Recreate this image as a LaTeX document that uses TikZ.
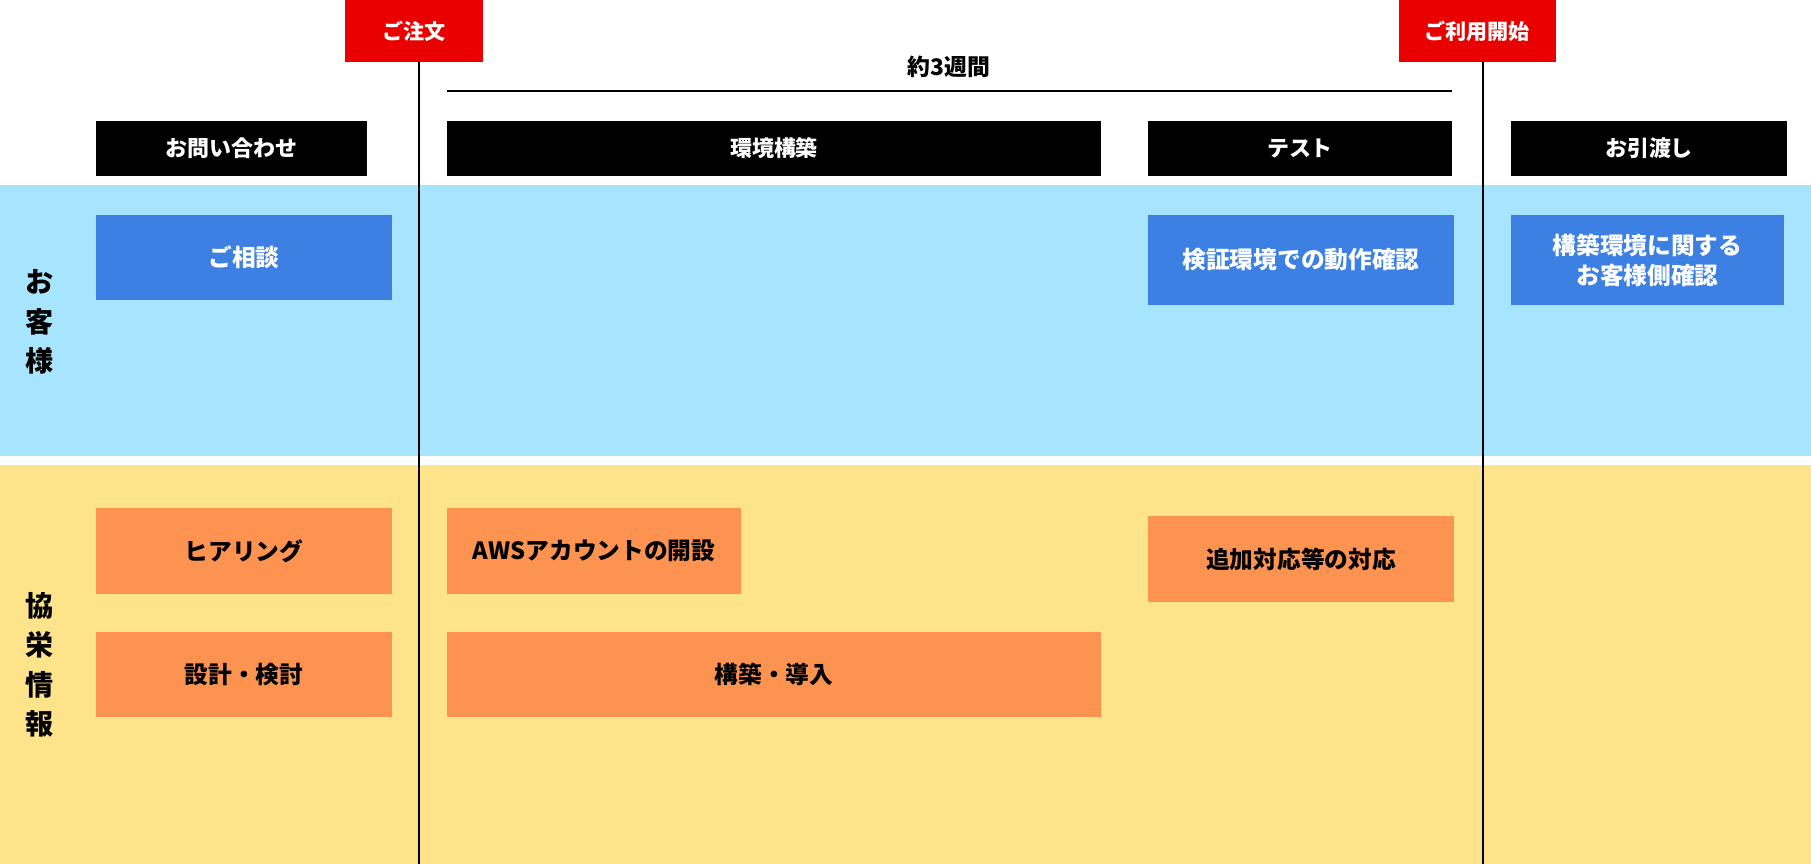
\documentclass[tikz,border=0pt]{standalone}
\usepackage{fontspec}
\setmainfont{Noto Sans CJK JP}
\definecolor{bandblue}{HTML}{A6E5FD}
\definecolor{bandyellow}{HTML}{FDE38A}
\definecolor{taskblue}{HTML}{3D80E3}
\definecolor{taskorange}{HTML}{FC9350}
\definecolor{markred}{HTML}{EB0000}
\begin{document}
\begin{tikzpicture}[x=0.02cm, y=-0.02cm,
		box/.style={inner sep=0pt, outer sep=0pt, align=center, font=\bfseries\fontsize{13.5}{17}\selectfont},
		phase/.style={box, fill=black, text=white, minimum height=1.1cm, font=\bfseries\fontsize{12.5}{15}\selectfont},
		milestone/.style={box, fill=markred, text=white, minimum height=1.24cm, font=\bfseries\fontsize{12}{15}\selectfont},
		usertask/.style={box, fill=taskblue, text=white},
		ourtask/.style={box, fill=taskorange, text=black},
		lane/.style={box, font=\bfseries\fontsize{16}{22.5}\selectfont},
		timeline/.style={line width=0.8pt}]
		\useasboundingbox (0,0) rectangle (1811,864);
		% lanes
		\fill[bandblue] (0,185) rectangle (1811,456);
		\fill[bandyellow] (0,465) rectangle (1811,864);
		\node[lane] (kyaku) at (40,322) {お\\客\\様};
		\node[lane] (kyoei) at (40,665) {協\\栄\\情\\報};
		% milestones
		\node[milestone, minimum width=2.76cm] (order) at (414,31) {ご注文};
		\node[milestone, minimum width=3.14cm] (start) at (1477,31) {ご利用開始};
		\coordinate (ordertop) at (419,62);
		\coordinate (orderend) at (419,864);
		\coordinate (starttop) at (1483,62);
		\coordinate (startend) at (1483,864);
		\draw[timeline] (ordertop) -- (orderend);
		\draw[timeline] (starttop) -- (startend);
		% duration
		\node[box, font=\bfseries\fontsize{13}{16}\selectfont] (weeks) at (949,67) {約3週間};
		\coordinate (span1) at (447,91);
		\coordinate (span2) at (1452,91);
		\draw[timeline] (span1) -- (span2);
		% phases
		\node[phase, minimum width=5.42cm] (inquiry) at (231.5,148.5) {お問い合わせ};
		\node[phase, minimum width=13.08cm] (build) at (774,148.5) {環境構築};
		\node[phase, minimum width=6.08cm] (test) at (1300,148.5) {テスト};
		\node[phase, minimum width=5.52cm] (handover) at (1649,148.5) {お引渡し};
		% customer tasks
		\node[usertask, minimum width=5.92cm, minimum height=1.7cm] (consult) at (244,257.5) {ご相談};
		\node[usertask, minimum width=6.12cm, minimum height=1.8cm] (verify) at (1301,260) {検証環境での動作確認};
		\node[usertask, minimum width=5.46cm, minimum height=1.8cm] (check) at (1647.5,260) {構築環境に関する\\お客様側確認};
		% our tasks
		\node[ourtask, minimum width=5.92cm, minimum height=1.72cm] (hearing) at (244,551) {ヒアリング};
		\node[ourtask, minimum width=5.92cm, minimum height=1.7cm] (design) at (244,674.5) {設計・検討};
		\node[ourtask, minimum width=5.88cm, minimum height=1.72cm] (account) at (594,551) {AWSアカウントの開設};
		\node[ourtask, minimum width=13.08cm, minimum height=1.7cm] (setup) at (774,674.5) {構築・導入};
		\node[ourtask, minimum width=6.12cm, minimum height=1.72cm] (extra) at (1301,559) {追加対応等の対応};
\end{tikzpicture}
\end{document}
